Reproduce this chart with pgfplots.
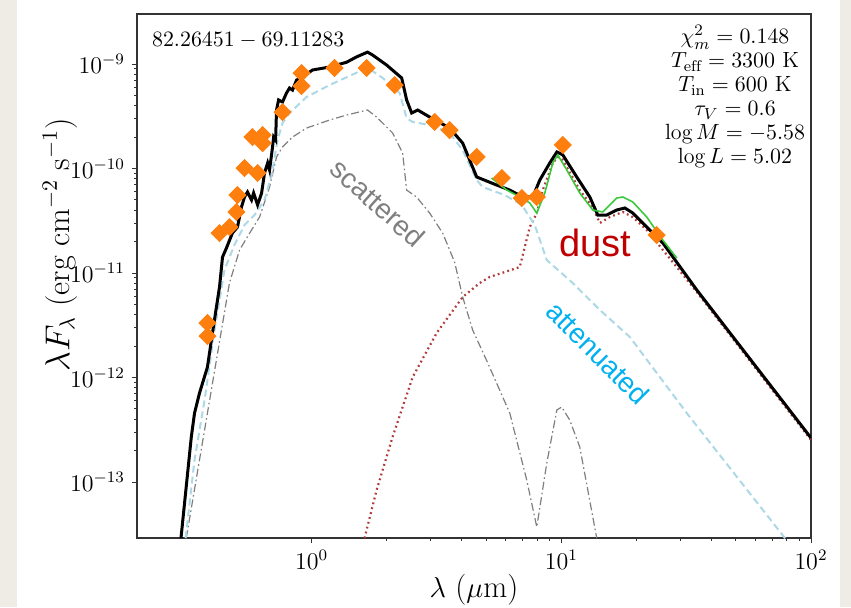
\documentclass[border=0pt]{standalone}
\usepackage{fontspec}
\usepackage{pgfplots}
\pgfplotsset{compat=1.18}
\newfontfamily\arial{Liberation Sans}
\definecolor{att}{HTML}{ADD8E6}
\definecolor{orng}{HTML}{FF7F0E}
\definecolor{dustc}{HTML}{B03A3A}
\definecolor{grn}{HTML}{3CC83C}
\definecolor{beige}{HTML}{EFECE5}
\definecolor{dustlab}{HTML}{C00000}
\definecolor{attlab}{HTML}{00B0F0}
\definecolor{scat}{HTML}{7F7F7F}
\begin{document}
\begin{tikzpicture}
\path[use as bounding box] (-68.5pt,-34.5pt) rectangle (357pt,269pt);
\fill[beige] (-68.5pt,-34.5pt) rectangle (-60pt,269pt);
\fill[beige] (351.5pt,-34.5pt) rectangle (357pt,269pt);
\begin{axis}[at={(0,0)},anchor=south west,scale only axis,
  width=337pt,height=262pt,
  xmode=log,ymode=log,
  xmin=0.2,xmax=100,ymin=2.91e-14,ymax=3.01e-9,
  axis line style={black!80,line width=0.8pt},
  tick align=outside,tick pos=left,
  major tick length=2.5pt,minor tick length=1.5pt,
  tick style={black!80,line width=0.5pt},
  xtick={1,10,100},
  ytick={1e-13,1e-12,1e-11,1e-10,1e-9},
  ticklabel style={font=\fontsize{11.5}{12}\selectfont},
  xlabel={$\lambda$ ($\mu$m)},
  ylabel={$\lambda F_{\lambda}$ (erg cm$^{-2}$ s$^{-1}$)},
  x label style={font=\fontsize{15.5}{17}\selectfont,at={(axis description cs:0.5,-0.099)},anchor=center},
  y label style={font=\fontsize{16}{18}\selectfont,at={(axis description cs:-0.114,0.559)},anchor=center},
]
% scattered
\addplot[scat,line width=0.6pt,dash pattern=on 4pt off 1.5pt on 0.8pt off 1.5pt] coordinates {
(0.315,2.9e-14)(0.469,8.02e-12)(0.515,1.66e-11)(0.565,2.41e-11)(0.619,3.43e-11)
(0.679,6.65e-11)(0.724,1.29e-10)(0.765,1.61e-10)(0.839,2.00e-10)(0.955,2.44e-10)
(1.180,2.91e-10)(1.381,3.25e-10)(1.676,3.63e-10)(1.822,3.11e-10)(2.111,2.19e-10)
(2.316,1.41e-10)(2.403,6.22e-11)(2.634,5.34e-11)(2.971,3.75e-11)(3.350,2.41e-11)
(3.741,1.27e-11)(4.029,5.89e-12)(4.417,2.85e-12)(5.075,1.38e-12)(6.219,4.57e-13)
(7.275,1.04e-13)(7.98,3.71e-14)(8.75,1.52e-13)(9.60,4.89e-13)(10.04,5.22e-13)
(10.81,3.92e-13)(11.86,2.16e-13)(13.87,2.9e-14)};
% dust
\addplot[dustc,line width=1.1pt,dash pattern=on 0.9pt off 1.6pt] coordinates {
(1.630,2.9e-14)(1.822,8.38e-14)(2.111,2.70e-13)(2.541,1.01e-12)(3.170,2.67e-12)
(4.029,5.89e-12)(4.713,8.02e-12)(5.167,9.16e-12)(6.82,1.14e-11)(7.48,2.75e-11)
(7.98,3.75e-11)(8.43,6.22e-11)(9.25,1.13e-10)(9.68,1.29e-10)(10.14,1.21e-10)
(11.86,6.22e-11)(13.37,4.28e-11)(14.27,3.01e-11)(15.64,3.43e-11)(17.63,3.84e-11)
(19.35,3.43e-11)(22.0,2.58e-11)(34.9,6.58e-12)(100,2.52e-13)};
% attenuated
\addplot[att,line width=1pt,dash pattern=on 3.5pt off 2pt] coordinates {
(0.313,2.9e-14)(0.340,1.63e-13)(0.373,6.10e-13)(0.409,2.85e-12)(0.448,1.07e-11)
(0.491,1.85e-11)(0.539,2.88e-11)(0.591,3.59e-11)(0.648,5.00e-11)(0.692,8.67e-11)
(0.731,1.87e-10)(0.765,2.72e-10)(0.816,3.40e-10)(0.955,4.83e-10)(1.180,6.29e-10)
(1.600,8.77e-10)(1.661,9.36e-10)(1.927,7.35e-10)(2.252,5.28e-10)(2.403,3.04e-10)
(2.541,2.79e-10)(2.971,2.61e-10)(3.573,2.19e-10)(4.029,1.50e-10)(4.584,7.76e-11)
(4.845,6.65e-11)(5.94,5.57e-11)(6.95,4.48e-11)(7.83,2.88e-11)(8.75,1.33e-11)
(11.12,8.02e-12)(14.27,4.43e-12)(18.82,2.44e-12)(31.8,4.57e-13)(78.7,2.9e-14)};
% total
\addplot[black,line width=1.5pt] coordinates {
(0.300,2.9e-14)(0.330,2.70e-13)(0.340,4.57e-13)(0.356,7.11e-13)(0.383,1.26e-12)
(0.401,2.67e-12)(0.428,7.35e-12)(0.440,1.42e-11)(0.456,1.73e-11)(0.482,2.41e-11)
(0.505,2.75e-11)(0.524,4.28e-11)(0.539,5.34e-11)(0.554,5.96e-11)(0.575,5.00e-11)
(0.586,5.83e-11)(0.608,4.48e-11)(0.631,5.83e-11)(0.648,9.06e-11)(0.667,1.13e-10)
(0.679,9.68e-11)(0.698,1.61e-10)(0.705,2.00e-10)(0.718,1.87e-10)(0.724,3.63e-10)
(0.738,4.53e-10)(0.765,4.33e-10)(0.794,5.28e-10)(0.816,5.89e-10)(0.839,5.63e-10)
(0.871,7.03e-10)(0.920,7.51e-10)(1.009,8.77e-10)(1.180,9.36e-10)(1.381,1.04e-9)
(1.514,1.17e-9)(1.676,1.30e-9)(1.755,1.22e-9)(1.998,9.78e-10)(2.296,7.35e-10)
(2.403,4.53e-10)(2.517,3.40e-10)(2.661,3.63e-10)(2.971,3.11e-10)(3.573,2.44e-10)
(4.029,1.75e-10)(4.584,8.30e-11)(5.511,6.95e-11)(6.219,6.22e-11)(7.015,5.34e-11)
(7.691,5.34e-11)(8.204,7.76e-11)(8.995,1.13e-10)(9.60,1.44e-10)(10.14,1.35e-10)
(11.53,8.30e-11)(13.01,5.34e-11)(14.00,3.59e-11)(15.21,3.59e-11)(16.68,4.01e-11)
(17.97,4.19e-11)(19.35,3.75e-11)(22.0,2.75e-11)(25.5,1.94e-11)(34.9,6.87e-12)
(100,2.64e-13)};
% spectrum
\addplot[grn,line width=0.8pt] coordinates {
(5.26,8.11e-11)(6.05,6.22e-11)(6.82,5.34e-11)(7.48,4.68e-11)(7.98,3.75e-11)
(8.59,5.83e-11)(9.25,1.13e-10)(9.68,1.35e-10)(10.52,9.68e-11)(11.86,5.83e-11)
(13.37,4.01e-11)(14.67,3.84e-11)(16.68,5.22e-11)(17.63,5.34e-11)(19.35,4.78e-11)
(22.0,3.43e-11)(25.5,2.07e-11)(29.0,1.39e-11)};
% photometry
\addplot[only marks,mark=square*,mark size=3pt,mark options={rotate=45,fill=orng,draw=orng}] coordinates {
(0.383,3.33e-12)(0.383,2.49e-12)(0.428,2.41e-11)(0.469,2.75e-11)(0.500,3.84e-11)
(0.505,5.57e-11)(0.539,1.01e-10)(0.608,9.06e-11)(0.580,2.00e-10)(0.637,2.09e-10)
(0.637,1.75e-10)(0.765,3.47e-10)(0.912,8.20e-10)(0.912,6.15e-10)(1.236,9.16e-10)
(1.661,9.16e-10)(2.152,6.29e-10)(3.112,2.79e-10)(3.573,2.33e-10)(4.584,1.29e-10)
(5.78,8.11e-11)(6.95,5.22e-11)(7.98,5.34e-11)(10.14,1.68e-10)(24.1,2.31e-11)};
\end{axis}
\node[anchor=west,font=\fontsize{11}{12}\selectfont] at (4pt,249pt) {$82.26451-69.11283$};
\node[align=center,font=\fontsize{11}{12}\selectfont] at (299pt,220.5pt) {%
$\chi^2_m = 0.148$\\ $T_{\rm eff} = 3300$ K\\ $T_{\rm in} = 600$ K\\ $\tau_V = 0.6$\\ $\log M = -5.58$\\ $\log L = 5.02$};
\node[rotate=-42,text=scat,font=\arial\fontsize{14}{16}\selectfont] at (120.5pt,167.5pt) {scattered};
\node[text=dustlab,font=\arial\fontsize{19}{22}\selectfont] at (229pt,147.5pt) {dust};
\node[rotate=-45,text=attlab,font=\arial\fontsize{14}{16}\selectfont] at (230.5pt,92.5pt) {attenuated};
\end{tikzpicture}
\end{document}
